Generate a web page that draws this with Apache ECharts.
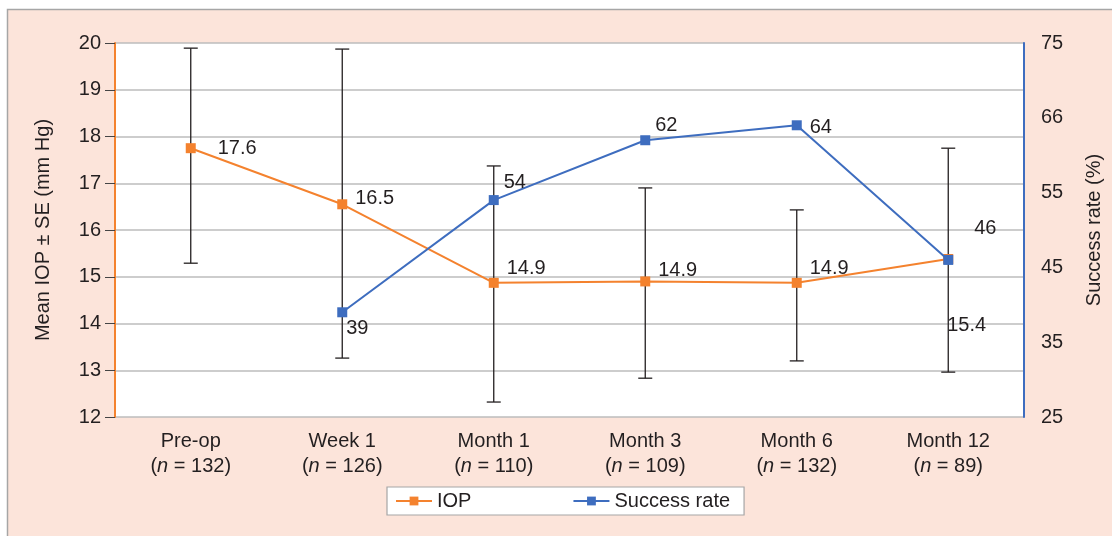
<!DOCTYPE html>
<html><head><meta charset="utf-8">
<script src="https://cdn.jsdelivr.net/npm/echarts@6/dist/echarts.min.js"></script>
<style>html,body{margin:0;padding:0;background:#fff}#c{width:1112px;height:536px}</style>
</head><body><div id="c"></div>
<script>
const categories = ['Pre-op','Week 1','Month 1','Month 3','Month 6','Month 12'];
const sampleSizes = ['132','126','110','109','132','89'];
const iopValues = [17.75, 16.55, 14.87, 14.9, 14.87, 15.38];
const iopLabels = ['17.6','16.5','14.9','14.9','14.9','15.4'];
const iopLow = [15.29, 13.26, 12.32, 12.83, 13.2, 12.96];
const iopHigh = [19.89, 19.87, 17.37, 16.9, 16.43, 17.75];
const successValues = [null, 39, 54, 62, 64, 46];
const successLabels = ['', '39', '54', '62', '64', '46'];
const leftTicks = ['12','13','14','15','16','17','18','19','20'];
const rightTicks = ['25','35','45','55','66','75'];

const ORANGE = '#F4822E', BLUE = '#3E6DBF', TXT = '#231f20';
const FONT = '"Liberation Sans", Arial, sans-serif';
const FS = 20;

const iopOffsets = [[0,0],[0,-6],[0,-14],[0,-11],[0,-14],[-11,66]];
const iopDist = [22,8,8,8,8,5];
const sucOffsets = [[0,0],[-6,16],[0,-18],[0,-15],[0,2],[16,-31]];
const sucDist = [5,5,5,5,8,5];

const chart = echarts.init(document.getElementById('c'), null, {renderer:'canvas'});
chart.setOption({
  backgroundColor:'#fff',
  animation:false,
  textStyle:{fontFamily:FONT, color:TXT},
  graphic:{elements:[{type:'rect', z:-100, shape:{x:7.5,y:9.5,width:1200,height:600},
    style:{fill:'#FCE4DA', stroke:'#a6a6a6', lineWidth:1.5}}]},
  grid:{left:115, right:86, top:43, bottom:119, show:true, backgroundColor:'#fff', borderWidth:0},
  legend:{left:387, top:487, backgroundColor:'#fff', borderColor:'#a6a6a6', borderWidth:1.2,
    padding:[4,14,4,8], itemGap:101, itemWidth:36, itemHeight:11,
    textStyle:{fontSize:FS, color:TXT, fontFamily:FONT},
    data:['IOP','Success rate']},
  xAxis:{type:'category', data:categories, boundaryGap:true,
    axisLine:{show:false}, axisTick:{show:false},
    axisLabel:{margin:12, fontSize:FS, color:TXT, lineHeight:25,
      formatter:(v,i)=>'{a|'+v+'}\n({i|n} = '+sampleSizes[i]+')',
      rich:{a:{fontSize:FS,color:TXT,lineHeight:25,fontFamily:FONT},
            i:{fontSize:FS,color:TXT,fontStyle:'italic',lineHeight:25,fontFamily:FONT}}}},
  yAxis:[
    {type:'value', min:12, max:20, interval:1, position:'left',
      name:'Mean IOP ± SE (mm Hg)', nameLocation:'middle', nameGap:62, nameRotate:90,
      nameTextStyle:{fontSize:FS, color:TXT, fontFamily:FONT},
      axisLine:{show:true, lineStyle:{color:ORANGE, width:2}},
      axisTick:{show:true, inside:false, length:10, lineStyle:{color:'#444', width:1}},
      axisLabel:{fontSize:FS, color:TXT, margin:14, formatter:(v)=>leftTicks[Math.round(v-12)]},
      splitLine:{show:true, lineStyle:{color:'#bdbdbd', width:1.5}}},
    {type:'value', min:25, max:75, interval:10, position:'right',
      name:'Success rate (%)', nameLocation:'middle', nameGap:60, nameRotate:90,
      nameTextStyle:{fontSize:FS, color:TXT, fontFamily:FONT},
      axisLine:{show:true, lineStyle:{color:BLUE, width:2}},
      axisTick:{show:false},
      axisLabel:{fontSize:FS, color:TXT, margin:17, formatter:(v)=>rightTicks[Math.round((v-25)/10)]},
      splitLine:{show:false}}
  ],
  series:[
    {name:'errbars', type:'custom', yAxisIndex:0, z:1, silent:true,
      data:categories.map((c,i)=>[i, iopLow[i], iopHigh[i]]),
      renderItem:(params, api)=>{
        const lo = api.coord([api.value(0), api.value(1)]);
        const hi = api.coord([api.value(0), api.value(2)]);
        const hw = 7, st = {stroke:'#231f20', lineWidth:1.3};
        return {type:'group', children:[
          {type:'line', shape:{x1:lo[0],y1:lo[1],x2:hi[0],y2:hi[1]}, style:st},
          {type:'line', shape:{x1:lo[0]-hw,y1:lo[1],x2:lo[0]+hw,y2:lo[1]}, style:st},
          {type:'line', shape:{x1:hi[0]-hw,y1:hi[1],x2:hi[0]+hw,y2:hi[1]}, style:st}
        ]};
      }},
    {name:'IOP', type:'line', yAxisIndex:0, z:3, symbol:'rect', symbolSize:10,
      itemStyle:{color:ORANGE}, lineStyle:{color:ORANGE, width:2},
      data:iopValues.map((v,i)=>({value:v, label:{show:true, position:'right',
        distance:iopDist[i], offset:iopOffsets[i], formatter:iopLabels[i]}})),
      label:{fontSize:FS, color:TXT, fontFamily:FONT}},
    {name:'Success rate', type:'line', yAxisIndex:1, z:4, symbol:'rect', symbolSize:10,
      connectNulls:false,
      itemStyle:{color:BLUE}, lineStyle:{color:BLUE, width:2},
      data:successValues.map((v,i)=>({value:v, label:{show:v!==null, position:'right',
        distance:sucDist[i], offset:sucOffsets[i], formatter:successLabels[i]}})),
      label:{fontSize:FS, color:TXT, fontFamily:FONT}}
  ]
});
</script></body></html>
